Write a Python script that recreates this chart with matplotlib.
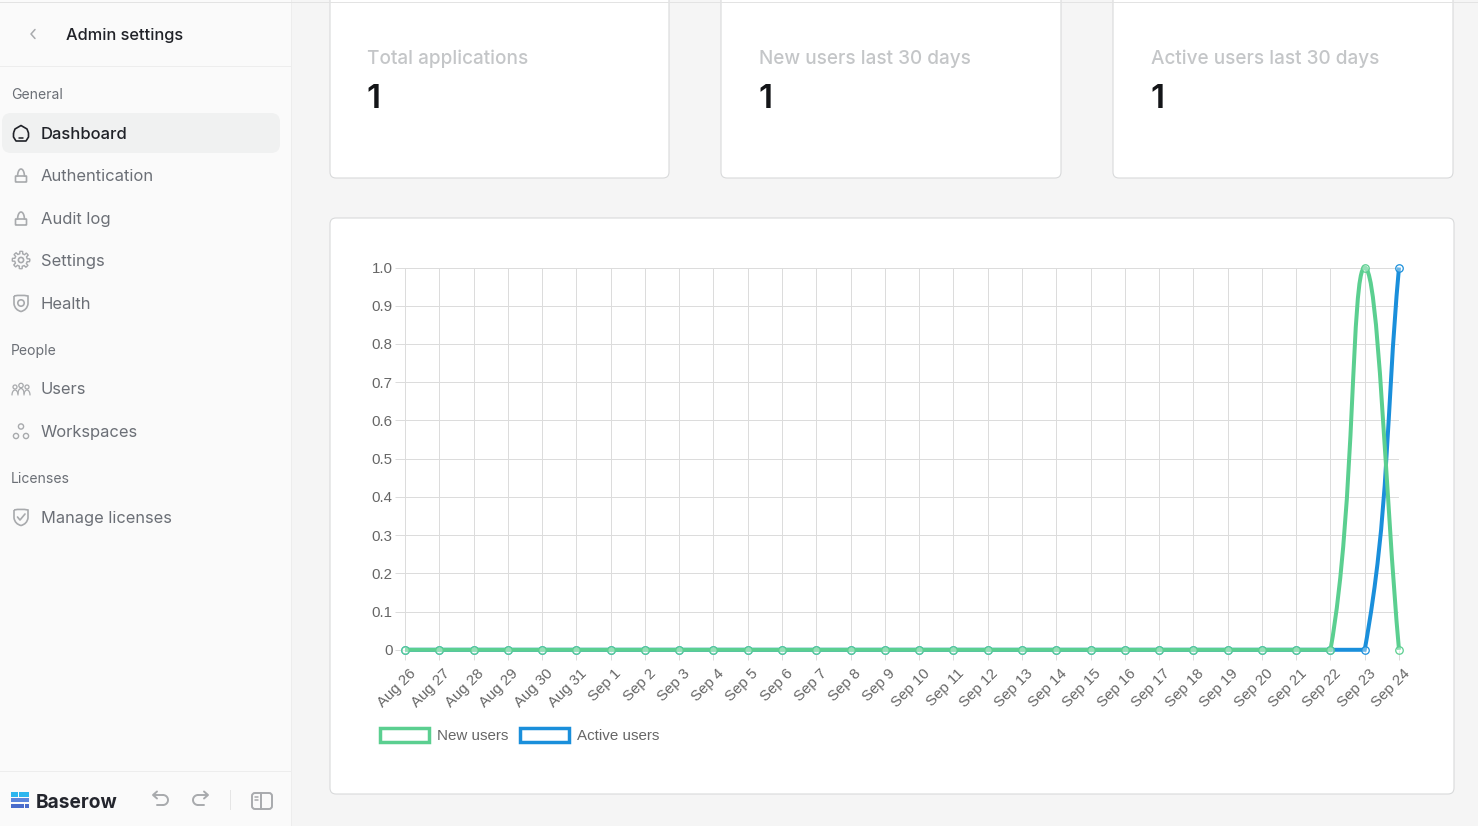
import numpy as np
import matplotlib
matplotlib.use("Agg")
import matplotlib.pyplot as plt
from matplotlib.patches import FancyBboxPatch, Rectangle, Circle, Polygon, PathPatch, Patch
from matplotlib.path import Path
from matplotlib.transforms import ScaledTranslation

dates = ["Aug 26","Aug 27","Aug 28","Aug 29","Aug 30","Aug 31","Sep 1","Sep 2","Sep 3","Sep 4",
         "Sep 5","Sep 6","Sep 7","Sep 8","Sep 9","Sep 10","Sep 11","Sep 12","Sep 13","Sep 14",
         "Sep 15","Sep 16","Sep 17","Sep 18","Sep 19","Sep 20","Sep 21","Sep 22","Sep 23","Sep 24"]
new_users = [0,0,0,0,0,0,0,0,0,0,0,0,0,0,0,0,0,0,0,0,0,0,0,0,0,0,0,0,1,0]
active_users = [0,0,0,0,0,0,0,0,0,0,0,0,0,0,0,0,0,0,0,0,0,0,0,0,0,0,0,0,0,1]
yticks = [0,0.1,0.2,0.3,0.4,0.5,0.6,0.7,0.8,0.9,1.0]
ytick_labels = ["0","0.1","0.2","0.3","0.4","0.5","0.6","0.7","0.8","0.9","1.0"]
stats = [("Total applications",1),("New users last 30 days",1),("Active users last 30 days",1)]
nav_general = ["Dashboard","Authentication","Audit log","Settings","Health"]
nav_people = ["Users","Workspaces"]
nav_licenses = ["Manage licenses"]

GREEN="#5BCF90"; BLUE="#1A8FDB"; GRID="#DCDCDC"
W,H=1478,826
fig=plt.figure(figsize=(W/100,H/100),dpi=100,facecolor="#F5F5F5")
ui=fig.add_axes([0,0,1,1]); ui.set_xlim(0,W); ui.set_ylim(H,0); ui.axis("off")
def pt(px): return px*0.72

def box(x0,y0,x1,y1,fc="white",ec="#D9DADB",r=6,lw=.8,z=2):
    ui.add_patch(FancyBboxPatch((x0+r,y0+r),x1-x0-2*r,y1-y0-2*r,boxstyle=f"round,pad={r}",fc=fc,ec=ec,lw=lw,zorder=z))
def label(x,y,s,px=16,c="#6B6F76",w=400,fam="Inter",**k):
    return ui.text(x,y,s,fontsize=pt(px),color=c,fontweight=w,family=fam,va="center_baseline",ha="left",zorder=5,**k)
def line(xs,ys,c="#A8AAAD",lw=1.2,**k):
    ui.plot(xs,ys,color=c,lw=lw,zorder=5,solid_capstyle="round",solid_joinstyle="round",**k)

# sidebar
ui.add_patch(Rectangle((0,0),290.5,H,fc="#FAFAFA",ec="none",zorder=1))
ui.plot([290.5,290.5],[0,H],color="#EDEDED",lw=.72,zorder=1.5)
ui.plot([0,W],[2,2],color="#E3E3E3",lw=.72,zorder=4)
ui.plot([0,290],[66,66],color="#EDEDED",lw=.72,zorder=2)
ui.plot([0,290],[771,771],color="#EDEDED",lw=.72,zorder=2)
line([35,31,35],[29.5,34,38.5],c="#A8AAAD",lw=1.1)
label(66,34,"Admin settings",16.4,"#202228",500)
label(11,93.5,"General",14,"#6B6F76")
box(2,113,280,153,fc="#F0F1F1",ec="none",r=9)
ys=[133,175,218,260,303]
for s,y,i in zip(nav_general,ys,range(5)):
    label(41,y,s,16.6,"#202228" if i==0 else "#6B6F76",500 if i==0 else 400)
label(11,349.5,"People",14)
for s,y in zip(nav_people,[388,431]): label(41,y,s,16.5)
label(11,477.5,"Licenses",14)
label(41,517,nav_licenses[0],16.4)

# icons
ui.add_patch(PathPatch(Path([(13.5,133),(15,129),(21,125.5),(27,129),(28.5,133),(28.5,137),(26,141),(16,141),(13.5,137),(13.5,133)],
    [1,2,2,2,2,2,2,2,2,2]),fc="none",ec="#202228",lw=1.2,zorder=5,joinstyle="round"))
line([19,23],[137.5,137.5],c="#202228",lw=1.1)
for y in (175,218):
    ui.add_patch(FancyBboxPatch((16,y+1.5),10,5,boxstyle="round,pad=0.5",fc="none",ec="#A8AAAD",lw=1.2,zorder=5))
    t=np.linspace(np.pi,0,20)
    line(21+3.4*np.cos(t),y+1-7*np.sin(t),lw=1.2)
# gear
t=np.linspace(0,2*np.pi,97)
r=7.5+1.2*np.sign(np.cos(8*t))
line(21+r*np.cos(t),260+r*np.sin(t),lw=1)
ui.add_patch(Circle((21,260),2.6,fc="none",ec="#A8AAAD",lw=1.2,zorder=5))
def shield(cy):
    ui.add_patch(PathPatch(Path([(14,cy-7),(21,cy-8.5),(28,cy-7),(28,cy+1),(27,cy+7),(21,cy+8.5),(15,cy+7),(14,cy+1),(14,cy-7)],
        [1,3,3,2,3,3,3,3,2]),fc="none",ec="#A8AAAD",lw=1.2,zorder=5))
shield(303)
ui.add_patch(Circle((21,303),3.2,fc="none",ec="#A8AAAD",lw=1.2,zorder=5))
shield(517)
line([17.5,20,25],[517,520,514],lw=1.2)
for cx,cy,rr in [(15,387,2),(21,385.5,2.2),(27,387,2)]:
    ui.add_patch(Circle((cx,cy),rr,fc="none",ec="#A8AAAD",lw=.9,zorder=5))
    tt=np.linspace(np.pi,2*np.pi,15)
    line(cx+3*np.cos(tt),cy+8+5*np.sin(tt),lw=.9)
for cx,cy in [(21,426.5),(16,436),(26,436)]:
    ui.add_patch(Circle((cx,cy),2.6,fc="none",ec="#A8AAAD",lw=1,zorder=5))

# footer
for (x,y,w,h,c) in [(11,792,6.5,4.5,"#2DB6EF"),(18.5,792,10.5,4.5,"#2DB6EF"),(11,798,18,4,"#5C85DC"),
                    (11,803.5,13,4.5,"#4A6CCB"),(25,803.5,4,4.5,"#4A6CCB")]:
    ui.add_patch(Rectangle((x,y),w,h,fc=c,ec="none",zorder=5))
label(36,800.5,"Baserow",19.1,"#23252D",700)
t=np.linspace(-np.pi/2,np.pi/2,20)
line(163+5*np.cos(t),800+5*np.sin(t),lw=1.4)
line([163,154],[795,795],lw=1.4); line([157,153,157],[791.5,795,798.5],lw=1.4); line([157,163],[805,805],lw=1.4)
t=np.linspace(np.pi/2,3*np.pi/2,20)
line(198+5*np.cos(t),800+5*np.sin(t),lw=1.4)
line([198,207],[795,795],lw=1.4); line([204,208,204],[791.5,795,798.5],lw=1.4); line([198,204],[805,805],lw=1.4)
ui.plot([229.5,229.5],[790,809],color="#E5E5E5",lw=.72,zorder=5)
box(252,793,272,809,fc="none",ec="#A8AAAD",r=3,lw=1.4,z=5)
line([261,261],[793,809],lw=1.4); line([255,258],[797,797],lw=1.1); line([255,258],[800,800],lw=1.1)

# cards
for (x0,x1,x_t),(title,val) in zip([(330,669,367),(721,1061,759),(1113,1453,1151)],stats):
    box(x0,-20,x1,178)
    label(x_t,57,title,19.0,"#C4C6C8",500)
    label(x_t-1,96,str(val),33,"#141518",600)
box(330,218,1454,794)

# chart
X0,X1,Y1,Y0=405,1399,267.5,649.8
ax=fig.add_axes([X0/W,1-Y0/H,(X1-X0)/W,(Y0-Y1)/H],facecolor="none")
xpos=np.arange(len(dates))
fs=15.0
ax.set_xlim(0,len(dates)-1); ax.set_ylim(0,1)
ax.set_xticks(xpos); ax.set_xticklabels(dates,rotation=45,ha="right",rotation_mode="anchor",family="Liberation Sans",fontsize=pt(fs),color="#666666")
ax.set_yticks(yticks); ax.set_yticklabels(ytick_labels,family="Liberation Sans",fontsize=pt(fs),color="#666666")
ax.grid(True,color=GRID,lw=.72,zorder=0)
ax.tick_params(axis="both",length=10*.72,width=.72,color=GRID)
ax.tick_params(axis="y",pad=1.8)
ax.tick_params(axis="x",pad=4.5)
ax.set_axisbelow(True)
for s in ax.spines.values(): s.set_visible(False)
for l in ax.get_xticklabels():
    l.set_transform(l.get_transform()+ScaledTranslation(3.5/100,0,fig.dpi_scale_trans))

def spline_path(x,y,tension=0.4):
    x=np.asarray(x,float); y=np.asarray(y,float)
    p=ax.transData.transform(np.column_stack([x,y]))
    lo,hi=ax.transData.transform([(0,0),(0,1)])[:,1]
    verts=[p[0]]; codes=[Path.MOVETO]
    def ctrl(i):
        a=p[max(i-1,0)]; b=p[i]; c=p[min(i+1,len(p)-1)]
        d01=np.hypot(*(b-a)); d12=np.hypot(*(c-b)); s=d01+d12
        fa=tension*d01/s if s else 0; fb=tension*d12/s if s else 0
        return b-fa*(c-a), b+fb*(c-a)
    def cap(q): return np.array([q[0],np.clip(q[1],lo,hi)])
    for i in range(len(p)-1):
        _,c1=ctrl(i); c2,_=ctrl(i+1)
        verts+= [cap(c1),cap(c2),p[i+1]]; codes+=[Path.CURVE4]*3
    return Path(ax.transData.inverted().transform(np.array(verts)),codes)

for vals,col,z in [(active_users,BLUE,3),(new_users,GREEN,4)]:
    ax.add_patch(PathPatch(spline_path(xpos,vals),fc="none",ec=col,lw=pt(4),zorder=z,clip_on=False,capstyle="butt"))
    ax.plot(xpos,vals,ls="none",marker="o",ms=pt(7.5),mfc=(1,1,1,.35),mec=col,mew=.9,zorder=z+.1,clip_on=False)

handles=[Patch(fc="white",ec=GREEN,lw=2.5,label="New users"),Patch(fc="white",ec=BLUE,lw=2.5,label="Active users")]
lf=15.1
ax.legend(handles=handles,loc="center left",bbox_to_anchor=(380/W,1-735.7/H),bbox_transform=fig.transFigure,frameon=False,
          prop={"family":"Liberation Sans","size":pt(lf)},labelcolor="#666666",ncol=2,handlelength=49/lf,handleheight=1.0,
          handletextpad=8/lf,columnspacing=12/lf,borderpad=0,borderaxespad=0)
fig.savefig("out.png",dpi=100,facecolor=fig.get_facecolor())
